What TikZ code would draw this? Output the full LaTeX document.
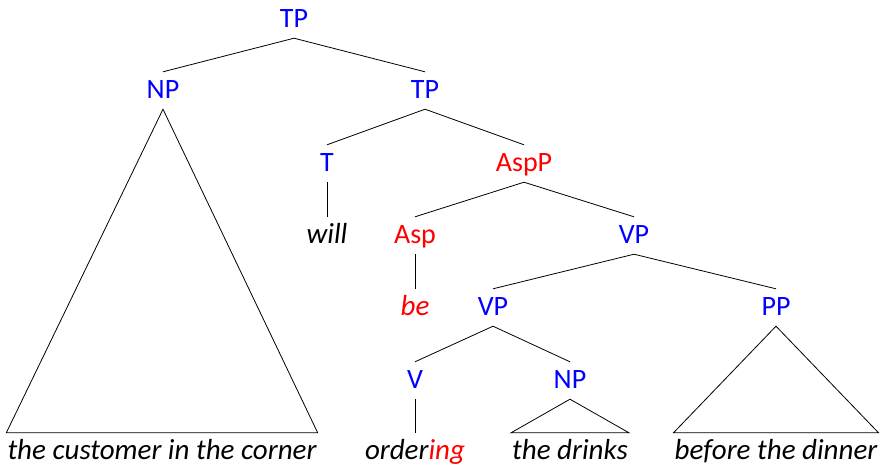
\documentclass[tikz,border=0pt]{standalone}
\usepackage{fontspec}
\setmainfont{Carlito}
\begin{document}
\begin{tikzpicture}[x=1pt,y=-1pt,
  lab/.style={anchor=base,inner xsep=1pt,inner ysep=11pt,text height=15pt,text depth=0pt,font=\fontsize{28}{28}\selectfont},
  cat/.style={lab,text=blue},
  asp/.style={lab,text=red},
  word/.style={lab,font=\fontsize{29}{29}\selectfont\itshape},
  branch/.style={draw=black,line width=0.8pt}]
\useasboundingbox (0,0) rectangle (882,466);
% category labels
\node[cat] (tp)   at (294,27)  {TP};
\node[cat] (np)   at (163,98)  {NP};
\node[cat] (tpb)  at (425,98)  {TP};
\node[cat] (t)    at (327,171) {T};
\node[asp] (aspp) at (524,171) {AspP};
\node[asp] (asp)  at (415,243) {Asp};
\node[cat] (vp)   at (634,243) {VP};
\node[cat] (vpb)  at (493,315) {VP};
\node[cat] (pp)   at (776,315) {PP};
\node[cat] (v)    at (415,388) {V};
\node[cat] (npb)  at (570,388) {NP};
% terminal words
\node[word] (will) at (327,243) {will};
\node[word,text=red] (be) at (415,315) {be};
\node[word] (subj) at (162,459) {the customer in the corner};
\node[word] (ord)  at (415,459) {order\textcolor{red}{ing}};
\node[word] (obj)  at (570,459) {the drinks};
\node[word] (adj)  at (776,459) {before the dinner};
% branches
\draw[branch] (tp.south) -- (np.north);
\draw[branch] (tp.south) -- (tpb.north);
\draw[branch] (tpb.south) -- (t.north);
\draw[branch] (tpb.south) -- (aspp.north);
\draw[branch] (t.south) -- (will.north);
\draw[branch] (aspp.south) -- (asp.north);
\draw[branch] (aspp.south) -- (vp.north);
\draw[branch] (asp.south) -- (be.north);
\draw[branch] (vp.south) -- (vpb.north);
\draw[branch] (vp.south) -- (pp.north);
\draw[branch] (vpb.south) -- (v.north);
\draw[branch] (vpb.south) -- (npb.north);
\draw[branch] (v.south) -- (ord.north);
% triangles over unanalysed phrases
\draw[branch,line join=miter] (np.south) -- (subj.north west) -- (subj.north east) -- cycle;
\draw[branch,line join=miter] (npb.south) -- (obj.north west) -- (obj.north east) -- cycle;
\draw[branch,line join=miter] (pp.south) -- (adj.north west) -- (adj.north east) -- cycle;
\end{tikzpicture}
\end{document}
